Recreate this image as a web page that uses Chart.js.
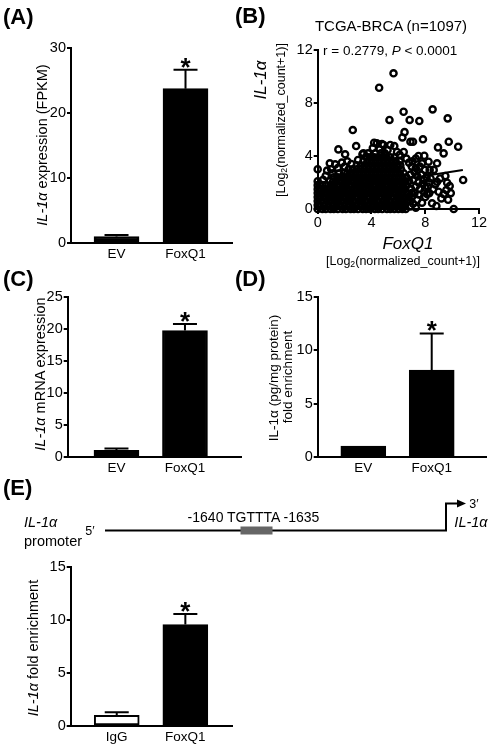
<!DOCTYPE html>
<html><head><meta charset="utf-8">
<script src="https://cdn.jsdelivr.net/npm/chart.js@4.4.0/dist/chart.umd.min.js"></script>
<style>
html,body{margin:0;padding:0;background:#fff;}
#page{position:relative;width:490px;height:750px;overflow:hidden;font-family:"Liberation Sans",Arial,sans-serif;color:#000;}
canvas{position:absolute;left:0;top:0;}
.t{position:absolute;white-space:nowrap;transform:translate(-50%,-50%);line-height:1;}
.r{transform:translate(-50%,-50%) rotate(-90deg);}
.l{position:absolute;white-space:nowrap;transform:translate(0,-50%);line-height:1;}
.lab{position:absolute;font-weight:bold;font-size:22px;line-height:1;transform:translate(0,-50%);}
sub{font-size:70%;vertical-align:-0.25em;line-height:0;}
</style></head><body><div id="page">
<canvas id="cA" width="490" height="750"></canvas>
<canvas id="cB" width="490" height="750"></canvas>
<canvas id="cC" width="490" height="750"></canvas>
<canvas id="cD" width="490" height="750"></canvas>
<canvas id="cE" width="490" height="750"></canvas>
<svg width="490" height="750" style="position:absolute;left:0;top:0">
  <polyline points="105,530.5 446,530.5 446,503.5 459,503.5" fill="none" stroke="#000" stroke-width="2"/>
  <polygon points="466,503.5 457,499.5 457,507.5" fill="#000"/>
  <rect x="240.5" y="526.5" width="32" height="8" fill="#666"/>
</svg>

<div class="lab" style="left:3px;top:17px">(A)</div>
<div class="lab" style="left:235px;top:16px">(B)</div>
<div class="lab" style="left:3px;top:279px">(C)</div>
<div class="lab" style="left:235px;top:279px">(D)</div>
<div class="lab" style="left:3px;top:488px">(E)</div>

<div class="t r" style="left:42px;top:145px;font-size:14.5px"><i>IL-1α</i> expression (FPKM)</div>
<div class="t" style="left:391px;top:25px;font-size:15px">TCGA-BRCA (n=1097)</div>
<div class="l" style="left:323px;top:51px;font-size:13.5px">r = 0.2779, <i>P</i> &lt; 0.0001</div>
<div class="t r" style="left:260px;top:80px;font-size:17px"><i>IL-1α</i></div>
<div class="t r" style="left:281px;top:120px;font-size:12.5px">[Log<sub>2</sub>(normalized_count+1)]</div>
<div class="t" style="left:408px;top:243px;font-size:17px"><i>FoxQ1</i></div>
<div class="t" style="left:403px;top:261px;font-size:12.5px">[Log<sub>2</sub>(normalized_count+1)]</div>
<div class="t r" style="left:40px;top:374px;font-size:14.5px"><i>IL-1α</i> mRNA expression</div>
<div class="t r" style="left:274px;top:378px;font-size:13.5px">IL-1α (pg/mg protein)</div>
<div class="t r" style="left:288px;top:377px;font-size:13.5px">fold enrichment</div>
<div class="t" style="left:253.5px;top:517px;font-size:14px">-1640 TGTTTA -1635</div>
<div class="l" style="left:24px;top:522px;font-size:14.5px"><i>IL-1α</i></div>
<div class="l" style="left:24px;top:541px;font-size:14.5px">promoter</div>
<div class="t" style="left:90px;top:531px;font-size:12.5px">5′</div>
<div class="t" style="left:474px;top:504px;font-size:12.5px">3′</div>
<div class="t" style="left:471px;top:522px;font-size:14.5px"><i>IL-1α</i></div>
<div class="t r" style="left:33px;top:648px;font-size:14.5px"><i>IL-1α</i> fold enrichment</div>
</div>
<script>
// ---------- data ----------
const groupsA = ['EV', 'FoxQ1'];
const fpkmMean = [1.0, 23.75];
const fpkmSem = [0.25, 2.9];
const marksA = ['', '*'];

const groupsC = ['EV', 'FoxQ1'];
const mrnaMean = [1.0, 19.7];
const mrnaSem = [0.3, 1.05];
const marksC = ['', '*'];

const groupsD = ['EV', 'FoxQ1'];
const proteinMean = [1.0, 8.15];
const proteinSem = [0, 3.45];
const marksD = ['', '*'];

const groupsE = ['IgG', 'FoxQ1'];
const chipMean = [1.0, 9.55];
const chipSem = [0.3, 1.0];
const marksE = ['', '*'];

const scatterTicks = [0, 4, 8, 12];
// dense part of the TCGA cloud: IL-1a level per row and FoxQ1 values in that row
const cloudIL1A = [0, 0.3, 0.6, 0.9, 1.2, 1.5, 1.8, 2.1, 2.4, 2.7, 3.0, 3.3, 3.6, 3.9, 4.2];
const cloudFoxQ1 = [
  [0,0.35,0.6,0.95,1.2,1.5,1.85,2.1,2.45,2.7,3.0,3.35,3.6,3.9,4.25,4.5,4.8,5.15,5.4,5.7,6.0,6.3,6.55],
  [0,0.15,0.5,0.8,1.1,1.4,1.7,2.0,2.3,2.6,2.9,3.2,3.5,3.8,4.1,4.4,4.7,5.0,5.3,5.6,5.9,6.2,6.5],
  [0,0.3,0.65,0.9,1.25,1.5,1.8,2.15,2.4,2.7,3.05,3.3,3.6,3.95,4.2,4.5,4.85,5.1,5.4,5.75,6.0,6.3,6.6,6.9],
  [0,0.2,0.45,0.8,1.05,1.35,1.7,1.95,2.3,2.55,2.85,3.2,3.45,3.75,4.1,4.35,4.65,5.0,5.25,5.55,5.9,6.15,6.45,6.75],
  [0,0.3,0.6,0.9,1.2,1.5,1.8,2.1,2.4,2.7,3.0,3.3,3.6,3.9,4.2,4.5,4.8,5.1,5.4,5.7,6.0,6.3,6.6,7.0],
  [0,0.25,0.5,0.85,1.1,1.4,1.75,2.0,2.3,2.65,2.9,3.2,3.55,3.8,4.1,4.45,4.7,5.0,5.35,5.6,5.9,6.25,6.5,6.85],
  [0,0.35,0.6,0.95,1.2,1.5,1.85,2.1,2.4,2.75,3.0,3.3,3.65,3.9,4.2,4.55,4.8,5.1,5.45,5.7,6.0,6.35,6.6],
  [0,0.9,1.15,1.4,1.7,2.0,2.3,2.6,2.9,3.2,3.5,3.8,4.1,4.4,4.7,5.0,5.3,5.6,5.9,6.2,6.5,6.8],
  [1.2,1.5,1.8,2.1,2.4,2.7,3.0,3.3,3.6,3.9,4.2,4.5,4.8,5.1,5.4,5.7,6.0,6.3,6.6],
  [1.6,1.95,2.2,2.5,2.8,3.1,3.4,3.7,4.0,4.3,4.6,4.9,5.2,5.5,5.8,6.1,6.4],
  [2.3,2.6,2.9,3.2,3.5,3.8,4.1,4.4,4.7,5.0,5.3,5.6,5.9,6.2],
  [2.9,3.2,3.5,3.8,4.1,4.4,4.7,5.0,5.3,5.6,5.9,6.15],
  [3.4,3.7,4.0,4.3,4.6,4.9,5.2,5.5,5.8,6.1],
  [3.9,4.2,4.5,4.8,5.1,5.4,5.7],
  [4.3,4.7,5.0]
];
// sparse / outlying samples [FoxQ1, IL-1a]
const sparseSamples = [
  [0,3.0],[0.9,3.45],[1.3,3.37],[0.7,2.9],[1.0,3.0],[0.6,2.5],[1.1,2.7],[0.4,2.2],[1.5,3.1],[1.54,4.5],
  [2.04,4.13],[1.8,3.5],[2.2,3.6],[2.5,3.4],[2.0,3.2],[2.61,5.96],[2.86,4.75],[3.33,4.13],[3.0,3.7],[3.4,4.2],
  [3.75,4.2],[3.6,3.95],[4.4,4.96],[4.78,4.9],[5.4,4.83],[5.7,4.75],[6.3,5.4],[6.46,5.8],[6.9,5.08],[7.09,5.08],
  [4.1,4.6],[4.6,4.5],[5.2,4.45],[5.9,4.3],[6.1,4.1],[6.4,4.3],[6.6,3.8],[6.8,3.5],[7.0,3.2],[4.2,5.0],[4.9,4.83],
  [5.64,10.24],[4.57,9.15],[5.34,6.72],[6.39,7.34],[6.84,6.72],[7.56,6.64],[8.55,7.52],[9.67,6.84],[7.83,5.26],
  [8.95,4.65],[9.75,5.08],[10.45,4.7],[9.37,4.2],[7.93,4.02],[8.25,3.57],[8.88,3.45],[7.76,3.45],[8.63,2.95],
  [8.33,2.95],[7.97,2.95],[10.82,2.19],[9.5,2.49],[9.63,1.98],[9.82,1.74],[9.37,1.13],[9.57,1.43],[8.88,2.06],
  [8.75,1.86],[8.58,1.49],[7.93,1.31],[8.13,1.13],[7.76,0.48],[8.51,0.43],[8.83,0.23],[10.12,0],
  [7.2,2.8],[7.4,2.5],[7.1,2.2],[7.5,2.0],[7.3,1.7],[7.6,1.5],[7.2,1.2],[7.0,0.9],[7.4,0.7],[7.1,0.4],
  [7.7,2.6],[7.9,2.2],[8.1,2.4],[8.3,2.0],[8.2,1.7],[8.0,1.6],[8.4,2.3],[7.8,1.9],[7.3,3.1],[7.6,3.2],
  [8.0,0.9],[8.3,1.2],[7.5,1.1],[6.9,0.2],[7.3,0.1],[6.95,1.5],[6.9,2.6],[7.05,3.6],[7.3,3.8],[7.5,4.0],
  [9.1,2.3],[9.2,0.8],[9.0,1.3],[9.9,1.2],[9.7,0.7]
];
const fitLineFoxQ1 = [0, 10.8];
const fitLineIL1A = [1.24, 2.94];

// ---------- drawing ----------
Chart.defaults.font.family = '"Liberation Sans", Arial, sans-serif';
Chart.defaults.color = '#000';

const Y_BOX = 40, X_BOX = 30;

const errorBarPlugin = {
  id: 'errorBars',
  afterDatasetsDraw(chart, args, opts) {
    if (!opts || !opts.errors) return;
    const ctx = chart.ctx, ys = chart.scales.y;
    const meta = chart.getDatasetMeta(0);
    const vals = chart.data.datasets[0].data;
    ctx.save();
    ctx.strokeStyle = '#000'; ctx.lineWidth = 2;
    meta.data.forEach((bar, i) => {
      const err = opts.errors[i];
      const yTop = ys.getPixelForValue(vals[i].y + err);
      if (err > 0) {
        ctx.beginPath();
        ctx.moveTo(bar.x, bar.y); ctx.lineTo(bar.x, yTop);
        ctx.moveTo(bar.x - opts.cap, yTop); ctx.lineTo(bar.x + opts.cap, yTop);
        ctx.stroke();
      }
      if (opts.marks && opts.marks[i]) {
        ctx.fillStyle = '#000';
        ctx.font = 'bold 26px "Liberation Sans", Arial';
        ctx.textAlign = 'center'; ctx.textBaseline = 'alphabetic';
        ctx.fillText(opts.marks[i], bar.x, yTop + 6);
      }
    });
    ctx.restore();
  }
};

function pad(area) {
  return {left: area[0] - Y_BOX, top: area[1], right: 490 - area[2], bottom: 750 - area[3] - X_BOX};
}

function barChart(id, area, xr, labels, means, errs, marks, yMax, step, fills) {
  new Chart(document.getElementById(id), {
    type: 'bar',
    data: {datasets: [{
      data: means.map((m, i) => ({x: i + 1, y: m})),
      backgroundColor: fills, borderColor: '#000', borderWidth: 2, borderSkipped: false,
      barThickness: 45
    }]},
    options: {
      responsive: false, animation: false, devicePixelRatio: 1,
      layout: {padding: pad(area)},
      plugins: {legend: {display: false}, tooltip: {enabled: false},
        errorBars: {errors: errs, marks: marks, cap: 12}},
      scales: {
        x: {type: 'linear', min: xr[0], max: xr[1], offset: false,
          afterFit: s => { s.height = X_BOX; },
          afterBuildTicks: s => { s.ticks = labels.map((l, i) => ({value: i + 1})); },
          ticks: {callback: v => labels[v - 1], font: {size: 13.5}, color: '#000', padding: 3, maxRotation: 0, autoSkip: false},
          grid: {display: false, drawTicks: false},
          border: {display: true, color: '#000', width: 2}},
        y: {min: 0, max: yMax,
          afterFit: s => { s.width = Y_BOX; },
          ticks: {stepSize: step, font: {size: 14.5}, color: '#000', padding: 1},
          grid: {drawOnChartArea: false, drawTicks: true, tickLength: 4, color: '#000', lineWidth: 2},
          border: {display: true, color: '#000', width: 2}}
      }
    },
    plugins: [errorBarPlugin]
  });
}

barChart('cA', [71, 48, 232, 243], [0.34, 2.674], groupsA, fpkmMean, fpkmSem, marksA, 30, 10, ['#000', '#000']);
barChart('cC', [67.7, 296.7, 241, 456.7], [0.288, 2.818], groupsC, mrnaMean, mrnaSem, marksC, 25, 5, ['#000', '#000']);
barChart('cD', [317.7, 297.3, 486.7, 456.7], [0.333, 2.804], groupsD, proteinMean, proteinSem, marksD, 15, 5, ['#000', '#000']);
barChart('cE', [70.7, 566.7, 232, 726], [0.329, 2.68], groupsE, chipMean, chipSem, marksE, 15, 5, ['#fff', '#000']);

// scatter
const tcgaPoints = [];
cloudIL1A.forEach((yv, r) => cloudFoxQ1[r].forEach(xv => tcgaPoints.push({x: xv, y: yv})));
sparseSamples.forEach(p => tcgaPoints.push({x: p[0], y: p[1]}));

new Chart(document.getElementById('cB'), {
  type: 'scatter',
  data: {datasets: [
    {data: tcgaPoints, pointRadius: 3.1, pointBorderWidth: 2.4, pointBorderColor: '#000',
     pointBackgroundColor: 'rgba(255,255,255,0)', showLine: false, clip: false},
    {type: 'line', data: fitLineFoxQ1.map((xv, i) => ({x: xv, y: fitLineIL1A[i]})),
     borderColor: '#000', borderWidth: 2, pointRadius: 0, showLine: true, fill: false}
  ]},
  options: {
    responsive: false, animation: false, devicePixelRatio: 1,
    layout: {padding: pad([317.7, 50, 479, 209])},
    plugins: {legend: {display: false}, tooltip: {enabled: false}},
    scales: {
      x: {type: 'linear', min: 0, max: 12, offset: false,
        afterFit: s => { s.height = X_BOX; },
        afterBuildTicks: s => { s.ticks = scatterTicks.map(v => ({value: v})); },
        ticks: {font: {size: 14.5}, color: '#000', padding: 0, maxRotation: 0},
        grid: {drawOnChartArea: false, drawTicks: true, tickLength: 5, color: '#000', lineWidth: 2},
        border: {display: true, color: '#000', width: 2}},
      y: {type: 'linear', min: 0, max: 12,
        afterFit: s => { s.width = Y_BOX; },
        afterBuildTicks: s => { s.ticks = scatterTicks.map(v => ({value: v})); },
        ticks: {font: {size: 14.5}, color: '#000', padding: 1},
        grid: {drawOnChartArea: false, drawTicks: true, tickLength: 4, color: '#000', lineWidth: 2},
        border: {display: true, color: '#000', width: 2}}
    }
  }
});
</script>
</body></html>
